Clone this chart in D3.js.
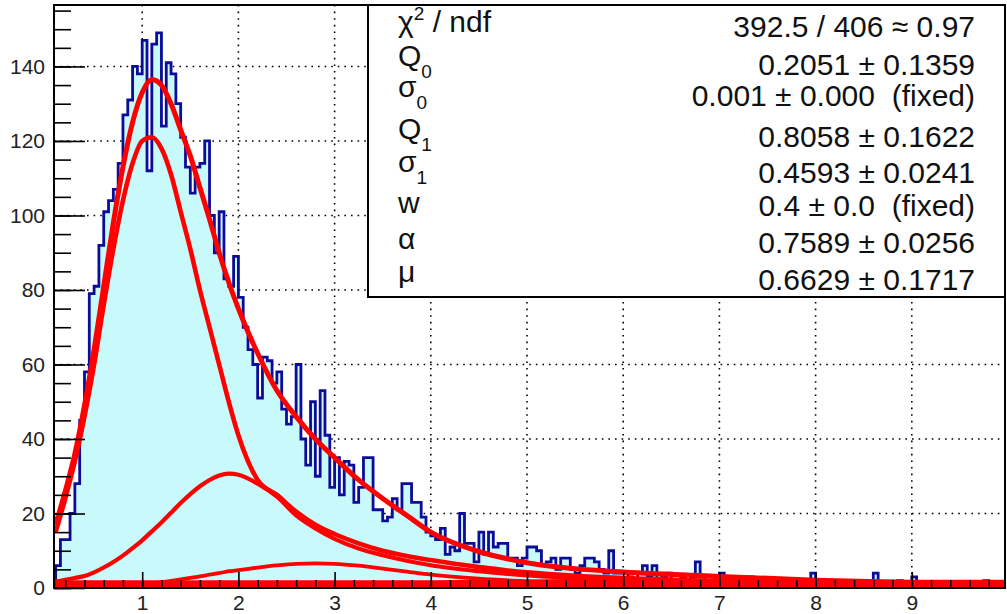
<!DOCTYPE html>
<html>
<head>
<meta charset="utf-8">
<script src="https://cdn.jsdelivr.net/npm/d3@7"></script>
<style>
  body { margin: 0; background: #fff; }
  svg { display: block; font-family: "Liberation Sans", Arial, Helvetica, sans-serif; }
</style>
</head>
<body>
<div id="chart"></div>
<script>
// histogram: 0.05 wide bins starting at 0.1
var binStart = 0.1, binWidth = 0.05;
var counts = [
  6, 13, 13, 20, 28, 45, 58, 79, 81, 92, 101, 104, 107, 114, 127, 131, 140, 138, 147, 112,
  146, 149, 124, 141, 138, 130, 121, 113, 106, 113, 114, 120, 100, 90, 101, 83, 81, 89, 78, 70,
  64, 60, 51, 62, 61, 55, 58, 48, 44, 46, 60, 40, 33, 50, 30, 53, 41, 27, 35, 25,
  34, 33, 23, 27, 35, 35, 21, 21, 18, 19, 24, 21, 28, 28, 23, 23, 19, 15, 14, 13,
  16, 9, 11, 10, 20, 12, 12, 7, 15, 9, 15, 11, 12, 12, 8, 8, 6, 8, 11, 11,
  10, 6, 7, 8, 5, 8, 8, 5, 4, 6, 8, 8, 7, 5, 4, 10, 4, 4, 4, 3,
  2, 4, 6, 3, 6, 2, 3, 4, 2, 2, 3, 2, 3, 7, 3, 2, 2, 3, 4, 2,
  1, 2, 2, 1, 3, 1, 2, 1, 2, 1, 2, 2, 1, 1, 2, 1, 2, 4, 1, 2,
  2, 1, 1, 2, 1, 1, 1, 0, 1, 1, 4, 1, 1, 1, 0, 2, 1, 1, 3, 1,
  1, 1, 0, 1, 1, 1, 1, 0, 1, 1, 1, 0, 1, 2, 1, 1, 1, 0
];

// fit curves
var fitX = [0.1, 0.2, 0.3, 0.4, 0.5, 0.6, 0.7, 0.8, 0.9, 1.0, 1.1, 1.2, 1.3, 1.4, 1.5, 1.6, 1.7, 1.8, 1.9, 2.0,
            2.2, 2.4, 2.6, 2.8, 3.0, 3.25, 3.5, 3.75, 4.0, 4.5, 5.0, 5.5, 6.0, 7.0, 8.0, 9.0, 10.0];
var fitTotal = [17, 26, 36, 49, 64, 81, 98, 113, 125, 133, 136.5, 135, 130, 123, 116, 107.5, 99, 90, 82, 75,
                63, 53, 46, 40, 35, 29, 24, 19.5, 15, 9.8, 6.8, 5.2, 4.3, 3.1, 2.1, 1.5, 1.1];
var fitPE1 = [15, 24, 34, 46, 60, 76, 91, 104, 114, 120, 121, 118, 111, 101, 91, 80, 70, 60, 50, 41,
              29, 25, 20.5, 17, 14.5, 12, 10, 8.6, 7.5, 5.6, 4.2, 3.3, 2.7, 1.9, 1.4, 1.1, 0.9];
var fitPE2 = [1.7, 2.2, 2.7, 3.2, 4.2, 5.5, 7, 8.7, 10.7, 12.8, 15.2, 17.6, 20.2, 22.8, 25.2, 27.3, 29, 30.2, 30.7, 30.4,
              28, 24.5, 19.5, 16, 13.2, 10.6, 8.8, 7.3, 6.1, 4.5, 3.4, 2.7, 2.2, 1.6, 1.2, 1.0, 0.8];
var fitPE3 = [0.3, 0.3, 0.4, 0.5, 0.5, 0.6, 0.7, 0.8, 0.9, 1.0, 1.2, 1.5, 1.9, 2.3, 2.7, 3.1, 3.6, 4.0, 4.5, 4.8,
              5.5, 6.1, 6.5, 6.6, 6.5, 6.0, 5.2, 4.4, 3.6, 2.5, 1.8, 1.3, 1.0, 0.6, 0.4, 0.3, 0.2];
var fitPed = [1.0, 1.0, 0.9, 0.9, 0.9, 0.9, 0.9, 0.9, 0.9, 0.9, 0.9, 0.9, 0.9, 0.9, 0.9, 0.9, 0.9, 0.9, 0.9, 0.9,
              0.9, 0.9, 0.9, 0.9, 0.9, 0.9, 0.9, 0.9, 0.9, 1.0, 1.1, 1.2, 1.2, 1.1, 1.0, 1.0, 1.0];

var xTicks = [1, 2, 3, 4, 5, 6, 7, 8, 9];
var yTicks = [0, 20, 40, 60, 80, 100, 120, 140];

var statNames = ["χ2 / ndf", "Q0", "σ0", "Q1", "σ1", "w", "α", "μ"];
var statValues = ["392.5 / 406 ≈ 0.97", "0.2051 ± 0.1359", "0.001 ± 0.000  (fixed)", "0.8058 ± 0.1622",
                  "0.4593 ± 0.0241", "0.4 ± 0.0  (fixed)", "0.7589 ± 0.0256", "0.6629 ± 0.1717"];

var W = 1007, H = 614;
var frame = { left: 54, right: 1005, top: 5, bottom: 588 };

var svg = d3.select("#chart").append("svg").attr("width", W).attr("height", H);

var x = d3.scaleLinear().domain([0, 10]).range([46, 1008]);
var y = d3.scaleLinear().domain([0, 156.5]).range([frame.bottom, frame.top]);

svg.append("clipPath").attr("id", "plotclip")
  .append("rect")
  .attr("x", frame.left).attr("y", frame.top)
  .attr("width", frame.right - frame.left).attr("height", frame.bottom - frame.top);

var plot = svg.append("g").attr("clip-path", "url(#plotclip)");

// dotted grid
plot.append("g").selectAll("line.gx").data(xTicks).enter().append("line")
  .attr("x1", d => x(d)).attr("x2", d => x(d))
  .attr("y1", frame.top).attr("y2", frame.bottom)
  .attr("stroke", "#000").attr("stroke-width", 1.6).attr("stroke-dasharray", "1.6,5");
plot.append("g").selectAll("line.gy").data(yTicks.slice(1)).enter().append("line")
  .attr("x1", frame.left).attr("x2", frame.right)
  .attr("y1", d => y(d)).attr("y2", d => y(d))
  .attr("stroke", "#000").attr("stroke-width", 1.6).attr("stroke-dasharray", "1.6,5");

// histogram as a step outline
var pts = [[binStart, 0]];
counts.forEach(function (c, i) {
  var lo = binStart + i * binWidth;
  pts.push([lo, c]);
  pts.push([lo + binWidth, c]);
});
pts.push([binStart + counts.length * binWidth, 0]);
var histLine = d3.line().x(d => x(d[0])).y(d => y(d[1]));

plot.append("path").attr("d", histLine(pts) + "Z")
  .attr("fill", "#c9fafb").attr("stroke", "none");
plot.append("path").attr("d", histLine(pts))
  .attr("fill", "none").attr("stroke", "#0c0c98").attr("stroke-width", 2.8)
  .attr("stroke-linejoin", "miter");

// fit curves
var curve = d3.line().x(d => x(d[0])).y(d => y(d[1])).curve(d3.curveMonotoneX);
function drawFit(vals, w) {
  plot.append("path")
    .attr("d", curve(fitX.map((xx, i) => [xx, vals[i]])))
    .attr("fill", "none").attr("stroke", "#ff0000").attr("stroke-width", w)
    .attr("stroke-linejoin", "round");
}
drawFit(fitPed, 9);
drawFit(fitPE3, 3.8);
drawFit(fitPE2, 4.2);
drawFit(fitPE1, 4.6);
drawFit(fitTotal, 5);

// axes: ticks pointing inward like ROOT
var yMinor = d3.range(0, 156, 5);
var xMinor = d3.range(0.2, 10, 0.2);

var yAxis = svg.append("g").attr("transform", "translate(" + frame.left + ",0)")
  .call(d3.axisLeft(y).tickValues(yTicks).tickSizeInner(-31).tickSizeOuter(0).tickPadding(9));
var yAxisMinor = svg.append("g").attr("transform", "translate(" + frame.left + ",0)")
  .call(d3.axisLeft(y).tickValues(yMinor).tickSizeInner(-17).tickSizeOuter(0).tickFormat(""));
var xAxis = svg.append("g").attr("transform", "translate(0," + frame.bottom + ")")
  .call(d3.axisBottom(x).tickValues(xTicks).tickSizeInner(-16).tickSizeOuter(0).tickPadding(7));
var xAxisMinor = svg.append("g").attr("transform", "translate(0," + frame.bottom + ")")
  .call(d3.axisBottom(x).tickValues(xMinor).tickSizeInner(-8).tickSizeOuter(0).tickFormat(""));

[yAxis, yAxisMinor, xAxis, xAxisMinor].forEach(function (a) {
  a.select(".domain").remove();
  a.selectAll(".tick line").attr("stroke", "#000").attr("stroke-width", 1.6);
  a.selectAll("text").attr("font-size", 21).attr("fill", "#222")
    .attr("font-family", "'Liberation Sans', Arial, sans-serif");
});

svg.append("rect")
  .attr("x", frame.left).attr("y", frame.top)
  .attr("width", frame.right - frame.left).attr("height", frame.bottom - frame.top)
  .attr("fill", "none").attr("stroke", "#000").attr("stroke-width", 2);

// stats box
var box = svg.append("g");
box.append("rect").attr("x", 368).attr("y", frame.top).attr("width", frame.right - 368).attr("height", 292)
  .attr("fill", "#fff").attr("stroke", "#000").attr("stroke-width", 2);

var nameBase = [32, 66, 97, 139, 172, 213, 249, 282];
var valBase = [37, 75, 106, 147, 183, 216, 253, 290];

statNames.forEach(function (n, i) {
  var t = box.append("text").attr("x", 398).attr("y", nameBase[i])
    .attr("font-size", 30).attr("fill", "#111");
  if (i === 0) {
    t.append("tspan").text("χ");
    t.append("tspan").attr("dy", -12).attr("font-size", 19).text("2");
    t.append("tspan").attr("dy", 12).text(" / ndf");
  } else if (n.length === 2) {
    t.append("tspan").text(n[0]);
    t.append("tspan").attr("dy", 12).attr("font-size", 19).text(n[1]);
  } else {
    t.text(n);
  }
});

statValues.forEach(function (v, i) {
  box.append("text").attr("x", 975).attr("y", valBase[i])
    .attr("text-anchor", "end").attr("font-size", 30).attr("fill", "#111")
    .attr("xml:space", "preserve").style("white-space", "pre")
    .text(v);
});
</script>
</body>
</html>
